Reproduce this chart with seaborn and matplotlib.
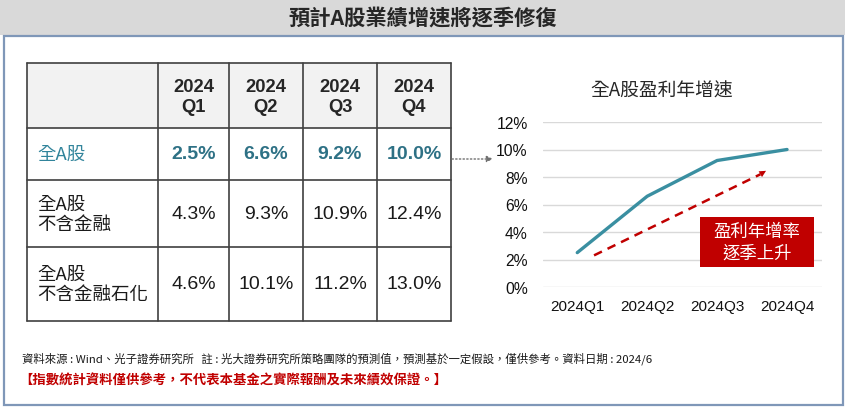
import matplotlib
matplotlib.use("Agg")
import matplotlib.pyplot as plt
import seaborn as sns
import pandas as pd
from matplotlib.patches import Rectangle

quarters = ["2024Q1", "2024Q2", "2024Q3", "2024Q4"]
col_labels = ["2024\nQ1", "2024\nQ2", "2024\nQ3", "2024\nQ4"]
row_labels = ["全A股", "全A股\n不含金融", "全A股\n不含金融石化"]
growth_all = [2.5, 6.6, 9.2, 10.0]
growth_ex_fin = [4.3, 9.3, 10.9, 12.4]
growth_ex_fin_petro = [4.6, 10.1, 11.2, 13.0]
yticks = [0, 2, 4, 6, 8, 10, 12]

title = "預計A股業績增速將逐季修復"
chart_title = "全A股盈利年增速"
box_text = "盈利年增率\n逐季上升"
source_note = "資料來源 : Wind、光子證券研究所   註 : 光大證券研究所策略團隊的預測值，預測基於一定假設，僅供參考。資料日期 : 2024/6"
disclaimer = "【指數統計資料僅供參考，不代表本基金之實際報酬及未來績效保證。】"

teal = "#31849b"
red = "#c00000"

sns.set_theme(style="white")
plt.rcParams["font.family"] = ["Liberation Sans", "Noto Sans CJK TC", "DejaVu Sans"]

W, H = 847, 410
fig = plt.figure(figsize=(W / 100, H / 100), dpi=100, facecolor="white")

# line chart
ax = fig.add_axes([543 / W, 1 - 288 / H, (822 - 543) / W, (288 - 123) / H])
df = pd.DataFrame({"quarter": quarters, "growth": growth_all})
sns.lineplot(data=df, x="quarter", y="growth", color="#3a8fa1", lw=2.4, ax=ax, clip_on=False)
ax.set_xlim(-0.49, 3.5)
ax.set_ylim(0, 12)
ax.set_yticks(yticks)
ax.set_yticklabels([f"{t}%" for t in yticks], fontsize=11.3)
ax.tick_params(axis="x", labelsize=11, length=0, pad=9, labelcolor="#111111")
ax.tick_params(axis="y", length=0, pad=11, labelcolor="#111111")
ax.grid(axis="y", color="#d9d9d9", lw=1)
ax.set_axisbelow(True)
for s in ax.spines.values():
    s.set_visible(False)
ax.set_xlabel("")
ax.set_ylabel("")

# dashed trend arrow
ax.plot([0.24, 2.62], [2.3, 8.2], color=red, lw=1.8, ls=(0, (3.5, 2.5)))
ax.annotate("", xy=(2.7, 8.45), xytext=(2.6, 8.15),
            arrowprops=dict(arrowstyle="-|>", color=red, lw=0, mutation_scale=12,
                            shrinkA=0, shrinkB=0))

# pixel-space overlay for frame, title and table
ax0 = fig.add_axes([0, 0, 1, 1])
ax0.set_xlim(0, W)
ax0.set_ylim(H, 0)
ax0.axis("off")
ax0.patch.set_visible(False)

ax0.add_patch(Rectangle((0, 0), 845, 36, facecolor="#d9d9d9", edgecolor="none"))
ax0.add_patch(Rectangle((4, 36.5), 839, 369.5, facecolor="none", edgecolor="#7f97b8", lw=1.6))
ax0.text(423, 18, title, ha="center", va="center", fontsize=15.3, fontweight="bold",
         family=["Noto Sans CJK TC"])

ax0.text(662, 91, chart_title, ha="center", va="center", fontsize=13.5, color="#262626",
         family=["Noto Sans CJK TC"])

# table
xs = [27, 158, 229, 303, 377, 451]
ys = [64, 129, 181, 248, 322]
ax0.add_patch(Rectangle((xs[0], ys[0]), xs[-1] - xs[0], ys[1] - ys[0], facecolor="#f2f2f2", edgecolor="none"))
for x in xs:
    ax0.plot([x, x], [ys[0], ys[-1]], color="#404040", lw=1.2)
for y in ys:
    ax0.plot([xs[0], xs[-1]], [y, y], color="#404040", lw=1.2)

for j, lab in enumerate(col_labels):
    cx = (xs[j + 1] + xs[j + 2]) / 2
    ax0.text(cx, (ys[0] + ys[1]) / 2 + 1, lab, ha="center", va="center", fontsize=13.2,
             fontweight="bold", linespacing=1.2)

rows = [growth_all, growth_ex_fin, growth_ex_fin_petro]
for i, (lab, vals) in enumerate(zip(row_labels, rows)):
    cy = (ys[i + 1] + ys[i + 2]) / 2
    first = i == 0
    ax0.text(37, cy, lab, ha="left", va="center", fontsize=13.3, linespacing=1.15,
             color=teal if first else "#1a1a1a", family=["Noto Sans CJK TC"])
    for j, v in enumerate(vals):
        cx = (xs[j + 1] + xs[j + 2]) / 2
        ax0.text(cx, cy, f"{v:.1f}%", ha="center", va="center", fontsize=14,
                 fontweight="bold" if first else "normal",
                 color="#2e7185" if first else "#1a1a1a")

# dotted pointer from table to chart
ax0.annotate("", xy=(493, 160), xytext=(452, 160),
             arrowprops=dict(arrowstyle="-|>", color="#707070", lw=1, linestyle=":",
                             mutation_scale=9, shrinkA=0, shrinkB=0))

ax0.text(22, 359, source_note, ha="left", va="center", fontsize=8.2, color="#1a1a1a",
         family=["Noto Sans CJK TC"])
ax0.text(19, 381, disclaimer, ha="left", va="center", fontsize=9.6, color=red, fontweight="bold",
         family=["Noto Sans CJK TC"])

ax0.add_patch(Rectangle((700, 218), 114, 50, facecolor=red, edgecolor="none", zorder=5))
ax0.text(757, 243, box_text, ha="center", va="center", fontsize=12.5, color="white",
         linespacing=1.25, zorder=6, family=["Noto Sans CJK TC"])

fig.savefig("out.png", dpi=100)
